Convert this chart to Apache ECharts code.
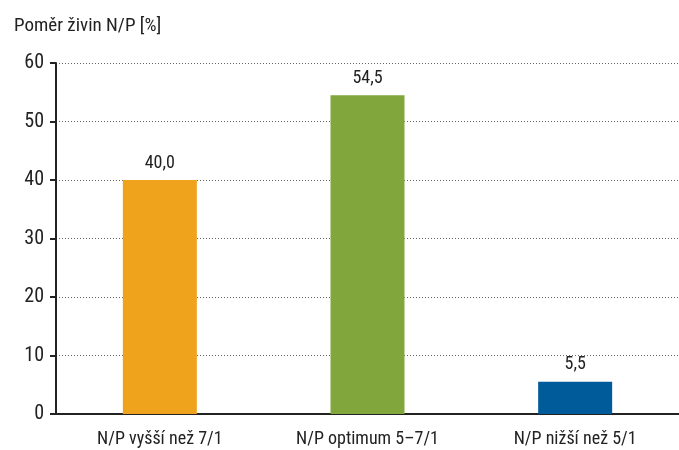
<!DOCTYPE html>
<html>
<head>
<meta charset="utf-8">
<script src="https://cdn.jsdelivr.net/npm/echarts@6/dist/echarts.min.js"></script>
<style>
  html, body { margin: 0; padding: 0; background: #fff; }
  #chart { width: 679px; height: 450px; }
</style>
</head>
<body>
<div id="chart"></div>
<script>
// Poměr živin N/P – podíl vzorků v jednotlivých skupinách
const categories = ['N/P vyšší než 7/1', 'N/P optimum 5–7/1', 'N/P nižší než 5/1'];
const values = [40.0, 54.5, 5.5];
const barColors = ['#EFA31D', '#81A63C', '#005B9A'];
const yTicks = [0, 10, 20, 30, 40, 50, 60];

const FONT = "'Liberation Sans Narrow', 'Arial Narrow', 'Roboto Condensed', 'Liberation Sans', sans-serif";

const chart = echarts.init(document.getElementById('chart'), null, { renderer: 'canvas' });

chart.setOption({
  animation: false,
  textStyle: { fontFamily: FONT },
  title: {
    text: 'Poměr živin N/P [%]',
    left: 9,
    top: 12,
    textStyle: { fontFamily: FONT, fontSize: 19, fontWeight: 'normal', color: '#222' }
  },
  grid: { left: 56, right: -2, top: 63, bottom: 36, containLabel: false },
  xAxis: {
    type: 'category',
    data: categories,
    axisLine: { lineStyle: { color: '#222', width: 2 } },
    axisTick: { show: false },
    axisLabel: { fontFamily: FONT, fontSize: 18, color: '#222', margin: 16 }
  },
  yAxis: {
    type: 'value',
    min: yTicks[0],
    max: yTicks[yTicks.length - 1],
    interval: yTicks[1] - yTicks[0],
    axisLine: { show: true, lineStyle: { color: '#222', width: 2 } },
    axisTick: { show: true, length: 6, lineStyle: { color: '#222', width: 2 } },
    axisLabel: { fontFamily: FONT, fontSize: 20, color: '#222', margin: 12 },
    splitLine: { show: true, lineStyle: { color: '#666', type: [1, 2], width: 1 } }
  },
  series: [{
    type: 'bar',
    data: values.map((v, i) => ({ value: v, itemStyle: { color: barColors[i] } })),
    barWidth: 74,
    label: {
      show: true,
      position: 'top',
      distance: 8,
      fontFamily: FONT,
      fontSize: 18,
      color: '#222',
      formatter: p => p.value.toFixed(1).replace('.', ',')
    }
  }]
});
</script>
</body>
</html>
